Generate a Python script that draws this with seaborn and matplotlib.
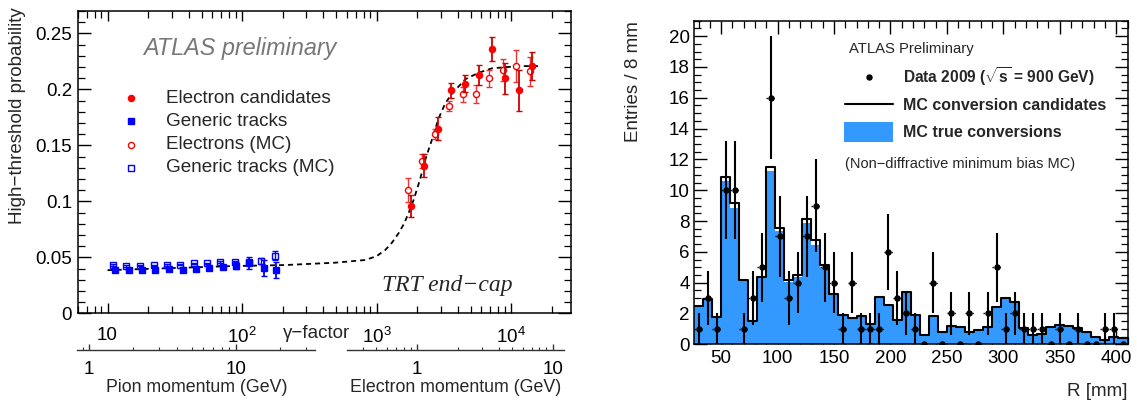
import numpy as np
import pandas as pd
import matplotlib
matplotlib.use("Agg")
import matplotlib.pyplot as plt
import seaborn as sns
from matplotlib.lines import Line2D
from matplotlib.patches import Rectangle
from matplotlib.ticker import (FixedLocator, FuncFormatter, LogLocator,
                               MultipleLocator, NullFormatter)

# ---------------- left panel : TRT end-cap turn-on ----------------
pion_gamma = [11.4, 14.5, 18.0, 22.7, 28.8, 36.1, 45.7, 57.1, 72.3, 90.8, 112, 145, 180]
pion_prob = [0.0387, 0.0390, 0.0387, 0.0390, 0.0393, 0.0390, 0.0398, 0.0407,
             0.0413, 0.0426, 0.0450, 0.0407, 0.0387]
pion_err = [0.001, 0.001, 0.001, 0.001, 0.001, 0.001, 0.001, 0.001,
            0.0015, 0.003, 0.005, 0.007, 0.0075]

pion_mc_gamma = [11.0, 13.8, 17.3, 22.0, 27.7, 34.7, 43.6, 54.9, 69.0, 88.1, 112, 139, 177]
pion_mc_prob = [0.0431, 0.0422, 0.0425, 0.0429, 0.0431, 0.0434, 0.0446, 0.0446,
                0.0455, 0.0455, 0.0461, 0.0467, 0.0512]
pion_mc_err = [0.0005, 0.0005, 0.0005, 0.0005, 0.0005, 0.0005, 0.0005, 0.0005,
               0.0008, 0.001, 0.0015, 0.003, 0.004]

ele_gamma = [1800, 2270, 2857, 3589, 4508, 5731, 7210, 9057, 11380, 14320]
ele_prob = [0.0961, 0.132, 0.165, 0.199, 0.205, 0.2128, 0.236, 0.2098, 0.199, 0.2208]
ele_err = [0.010, 0.010, 0.010, 0.007, 0.0075, 0.0087, 0.011, 0.014, 0.018, 0.0125]

ele_mc_gamma = [1727, 2183, 2742, 3467, 4355, 5480, 6890, 8655, 10890, 13740]
ele_mc_prob = [0.110, 0.136, 0.160, 0.185, 0.1955, 0.1958, 0.2098, 0.2172, 0.2208, 0.2163]
ele_mc_err = [0.0107, 0.0064, 0.0045, 0.0045, 0.0064, 0.0082, 0.0077, 0.010, 0.014, 0.013]

fit_gamma = [10, 86, 209, 492, 822, 1000, 1159, 1300, 1456, 1600, 1727, 1882, 2100,
             2300, 2580, 2890, 3240, 3630, 4560, 5730, 7210, 11380, 16040]
fit_prob = [0.0385, 0.0422, 0.0431, 0.0452, 0.0476, 0.0510, 0.0565, 0.0630, 0.0714,
            0.0800, 0.0893, 0.101, 0.119, 0.137, 0.155, 0.174, 0.1875, 0.196,
            0.209, 0.2148, 0.2188, 0.2208, 0.2208]

gamma_ticks = [10, 100, 1000, 10000]
gamma_labels = ["10", r"$\mathregular{10^{2}}$", r"$\mathregular{10^{3}}$", r"$\mathregular{10^{4}}$"]

# ---------------- right panel : conversion radius ----------------
r_min, bin_w, n_bins = 26, 8, 48
mc_candidates = [2.48, 2.94, 1.79, 10.83, 9.20, 4.17, 1.51, 4.38, 11.48, 7.52, 4.17, 4.51,
                 8.13, 6.76, 5.14, 3.26, 1.90, 1.68, 1.83, 1.34, 3.09, 2.58, 1.55, 3.41,
                 1.90, 0.60, 1.84, 0.82, 1.19, 1.14, 0.82, 0.93, 1.14, 2.44, 3.02, 2.76,
                 1.04, 0.60, 0.65, 1.10, 1.25, 1.21, 1.08, 0.82, 0.50, 0.28, 0.45, 0.39]
mc_true = [2.42, 2.87, 1.74, 10.59, 8.86, 4.08, 1.45, 4.30, 11.24, 7.35, 4.06, 4.38,
           7.84, 6.44, 4.93, 3.20, 1.82, 1.62, 1.78, 1.29, 3.03, 2.52, 1.50, 3.33,
           1.85, 0.57, 1.79, 0.79, 1.15, 1.10, 0.79, 0.90, 1.10, 2.38, 2.95, 2.70,
           1.00, 0.57, 0.62, 1.06, 1.20, 1.17, 1.04, 0.79, 0.47, 0.26, 0.42, 0.37]
data_2009 = [1, 3, 1, 10, 10, 1, 3, 5, 16, 7, 3, 4, 7, 9, 5, 4, 1, 4, 1, 1, 1, 6, 3, 2,
             1, 0, 4, 0, 2, 0, 2, 0, 2, 5, 1, 2, 1, 1, 1, 0, 1, 0, 1, 0, 0, 1, 1, 0]

# ---------------- style ----------------
sns.set_theme(style="ticks", rc={"axes.edgecolor": "black", "axes.linewidth": 1.1,
                                 "xtick.color": "black", "ytick.color": "black"})
plt.rcParams["font.family"] = ["Liberation Sans", "DejaVu Sans"]
plt.rcParams["mathtext.fontset"] = "custom"
plt.rcParams["mathtext.rm"] = "Liberation Sans"
plt.rcParams["mathtext.it"] = "Liberation Sans:italic"
plt.rcParams["mathtext.bf"] = "Liberation Sans:bold"

W, H = 1137, 403
fig = plt.figure(figsize=(W / 100, H / 100), dpi=100)


def fx(px):
    return px / W


def fy(py):
    return 1 - py / H


RED = "#ff0000"
BLUE = "#0000ff"
FILL = "#3399ff"
TS = 13.5

# ---- left main axes
ax1 = fig.add_axes([fx(77.7), fy(313.3), fx(571) - fx(77.7), fy(11) - fy(313.3)])
ax1.set_xscale("log")
sns.lineplot(x=fit_gamma, y=fit_prob, ax=ax1, color="black", lw=1.3,
             linestyle=(0, (2.8, 2.2)), sort=False, zorder=2)
ax1.errorbar(pion_gamma, pion_prob, yerr=pion_err, fmt="s", ms=4.2, color=BLUE,
             ecolor=BLUE, elinewidth=1.3, capsize=2, zorder=4)
ax1.errorbar(pion_mc_gamma, pion_mc_prob, yerr=pion_mc_err, fmt="s", ms=4.2, mfc="none",
             mec=BLUE, mew=1.0, ecolor=BLUE, elinewidth=1.0, capsize=2, zorder=3)
ax1.errorbar(ele_mc_gamma, ele_mc_prob, yerr=ele_mc_err, fmt="o", ms=4.4, mfc="white",
             mec=RED, mew=1.0, ecolor="#ee3333", elinewidth=1.0, capsize=2, zorder=3)
ax1.errorbar(ele_gamma, ele_prob, yerr=ele_err, fmt="o", ms=4.4, color=RED,
             ecolor="#d00000", elinewidth=1.3, capsize=2, zorder=4)
ax1.set_xlim(6.0, 27900)
ax1.set_ylim(0, 0.27)
ax1.set_xlabel("")
ax1.set_ylabel("")
ax1.xaxis.set_major_locator(FixedLocator(gamma_ticks))
ax1.xaxis.set_major_formatter(FuncFormatter(lambda v, p: gamma_labels[gamma_ticks.index(v)]
                                            if v in gamma_ticks else ""))
ax1.xaxis.set_minor_locator(LogLocator(base=10, subs=np.arange(2, 10)))
ax1.xaxis.set_minor_formatter(NullFormatter())
ax1.yaxis.set_major_locator(MultipleLocator(0.05))
ax1.yaxis.set_minor_locator(MultipleLocator(0.01))
ax1.yaxis.set_major_formatter(FuncFormatter(lambda v, p: f"{v:g}"))
ax1.tick_params(which="both", direction="in", top=True, right=True, labelsize=TS)
ax1.tick_params(axis="y", which="major", length=9.4, width=1.0, pad=4)
ax1.tick_params(axis="y", which="minor", length=4.7, width=0.9)
ax1.tick_params(axis="x", which="major", length=7.5, width=1.0, pad=10)
ax1.tick_params(axis="x", which="minor", length=4.7, width=0.9)
for s in ax1.spines.values():
    s.set_linewidth(1.1)

# ---- momentum axes under the gamma axis
def momentum_axis(x0, x1, lo, hi):
    a = fig.add_axes([fx(x0), fy(350), fx(x1) - fx(x0), 1e-4])
    a.patch.set_visible(False)
    for s in ["left", "right", "top"]:
        a.spines[s].set_visible(False)
    a.spines["bottom"].set_linewidth(1.0)
    a.spines["bottom"].set_color("#333333")
    a.set_yticks([])
    a.set_xscale("log")
    a.set_xlim(lo, hi)
    a.xaxis.set_major_locator(FixedLocator([1, 10]))
    a.xaxis.set_major_formatter(FuncFormatter(lambda v, p: f"{v:g}"))
    a.xaxis.set_minor_locator(LogLocator(base=10, subs=np.arange(2, 10)))
    a.xaxis.set_minor_formatter(NullFormatter())
    a.tick_params(axis="x", which="both", direction="in", labelsize=TS, pad=8,
                  color="#333333")
    a.tick_params(axis="x", which="major", length=4.0, width=1.0)
    a.tick_params(axis="x", which="minor", length=2.2, width=0.8)
    return a


momentum_axis(77.3, 315, 0.828, 34.8)
momentum_axis(347.3, 564.3, 0.306, 12.2)

fig.text(fx(287), fy(387), "Pion momentum (GeV)", ha="right", va="center", size=12.8)
fig.text(fx(561), fy(387), "Electron momentum (GeV)", ha="right", va="center", size=12.8)
fig.text(fx(350), fy(333), "γ\u2212factor", ha="right", va="center", size=TS)
fig.text(fx(18), fy(7), "High\u2212threshold probability", rotation=90,
         ha="center", va="top", size=TS)
fig.text(fx(143), fy(48), "ATLAS preliminary", ha="left", va="center", size=16.8,
         style="italic", color="#777777")
fig.text(fx(381.7), fy(286), "TRT end\u2212cap", ha="left", va="center", size=17,
         style="italic", family=["Liberation Serif", "DejaVu Serif"])

legend_rows = [
    ("Electron candidates", dict(marker="o", color=RED, mfc=RED, mec=RED)),
    ("Generic tracks", dict(marker="s", color=BLUE, mfc=BLUE, mec=BLUE)),
    ("Electrons (MC)", dict(marker="o", color=RED, mfc="white", mec=RED)),
    ("Generic tracks (MC)", dict(marker="s", color=BLUE, mfc="white", mec=BLUE)),
]
for i, (lab, kw) in enumerate(legend_rows):
    yy = 98.3 + i * 23.1
    fig.add_artist(Line2D([fx(131)], [fy(yy)], transform=fig.transFigure, ls="none",
                          ms=4.4, mew=1.0, **kw))
    fig.text(fx(165.7), fy(yy), lab, ha="left", va="center", size=13.6)

# ---- right panel
edges = r_min + bin_w * np.arange(n_bins + 1)
centers = edges[:-1] + bin_w / 2
counts = np.array(data_2009, dtype=float)
hist_df = pd.DataFrame({"R": centers, "cand": mc_candidates, "true": mc_true})

ax2 = fig.add_axes([fx(694), fy(344.3), fx(1127.5) - fx(694), fy(20.7) - fy(344.3)])
sns.histplot(data=hist_df, x="R", weights="true", bins=list(edges), element="step",
             fill=True, color=FILL, alpha=1, linewidth=0, ax=ax2, zorder=1)
sns.histplot(data=hist_df, x="R", weights="cand", bins=list(edges), element="step",
             fill=False, color="black", linewidth=1.5, ax=ax2, zorder=2)
nz = counts > 0
ax2.errorbar(centers[nz], counts[nz], yerr=np.sqrt(counts[nz]), fmt="none",
             ecolor="black", elinewidth=1.5, zorder=3)
xe = ax2.errorbar(centers[nz], counts[nz], xerr=bin_w / 2, fmt="none",
                  ecolor="black", elinewidth=1.0, zorder=3)
xe[2][0].set_linestyle((0, (1, 1.5)))
ax2.plot(centers, counts, "o", color="black", ms=3.6, zorder=4)
ax2.axhline(0, color="#8a8a30", lw=1.2, zorder=2)
ax2.set_xlim(edges[0], edges[-1])
ax2.set_ylim(0, 21)
ax2.set_xlabel("")
ax2.set_ylabel("")
ax2.xaxis.set_major_locator(MultipleLocator(50))
ax2.xaxis.set_minor_locator(MultipleLocator(10))
ax2.yaxis.set_major_locator(MultipleLocator(2))
ax2.yaxis.set_minor_locator(MultipleLocator(0.5))
ax2.tick_params(which="both", direction="in", top=True, right=True, labelsize=TS)
ax2.tick_params(which="major", length=9.4, width=1.0)
ax2.tick_params(which="minor", length=4.7, width=0.9)
ax2.tick_params(axis="x", pad=4)
ax2.tick_params(axis="y", pad=3)
for s in ax2.spines.values():
    s.set_linewidth(1.1)
    s.set_zorder(5)

fig.text(fx(634), fy(20.7), "Entries / 8 mm", rotation=90, ha="center", va="top", size=TS)
fig.text(fx(1127.5), fy(391.5), "R [mm]", ha="right", va="center", size=TS)

fig.text(fx(849), fy(49), "ATLAS Preliminary", ha="left", va="center", size=10.7)
fig.add_artist(Line2D([fx(869)], [fy(76.5)], transform=fig.transFigure, ls="none",
                      marker="o", ms=3.6, color="black"))
fig.text(fx(903), fy(77), r"Data 2009 ($\mathbf{\sqrt{s}}$ = 900 GeV)", ha="left",
         va="center", size=11.2, weight="bold")
fig.add_artist(Line2D([fx(845), fx(893)], [fy(104), fy(104)], transform=fig.transFigure,
                      color="black", lw=1.5))
fig.text(fx(903), fy(105), "MC conversion candidates", ha="left", va="center",
         size=11.5, weight="bold")
fig.add_artist(Rectangle((fx(844), fy(141.7)), fx(893) - fx(844), fy(121.7) - fy(141.7),
                         transform=fig.transFigure, color=FILL, lw=0))
fig.text(fx(903), fy(132.5), "MC true conversions", ha="left", va="center",
         size=11.5, weight="bold")
fig.text(fx(845), fy(164), "(Non\u2212diffractive minimum bias MC)", ha="left",
         va="center", size=10.5)

fig.savefig("out.png", dpi=100)
